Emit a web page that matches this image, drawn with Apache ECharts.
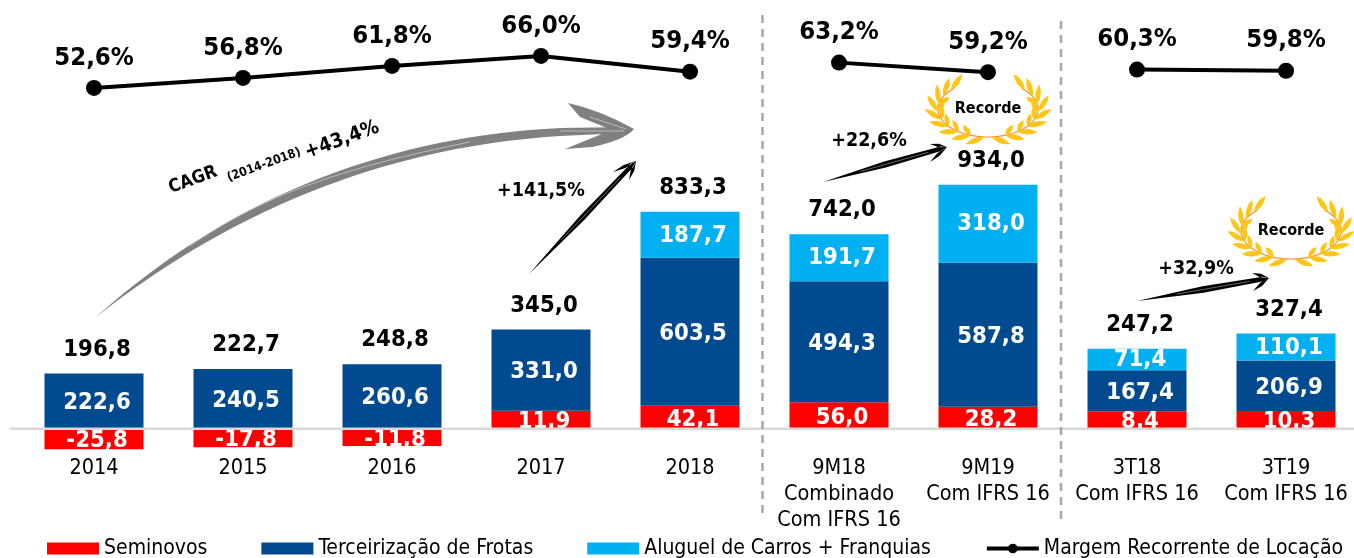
<!DOCTYPE html>
<html><head><meta charset="utf-8">
<script src="https://cdn.jsdelivr.net/npm/echarts@6/dist/echarts.min.js"></script>
<style>html,body{margin:0;padding:0;background:#fff;overflow:hidden}#c{width:1354px;height:558px}</style>
</head><body><div id="c"></div>
<script>
var categories = ['2014','2015','2016','2017','2018','9M18\nCombinado\nCom IFRS 16','9M19\nCom IFRS 16','3T18\nCom IFRS 16','3T19\nCom IFRS 16'];
// printed values
var seminovos = [-25.8,-17.8,-11.8,11.9,42.1,56.0,28.2,8.4,10.3];
var terceirizacao = [222.6,240.5,260.6,331.0,603.5,494.3,587.8,167.4,206.9];
var aluguel = [null,null,null,null,187.7,191.7,318.0,71.4,110.1];
var totais = [196.8,222.7,248.8,345.0,833.3,742.0,934.0,247.2,327.4];
var margem = [52.6,56.8,61.8,66.0,59.4,null,null,null,null];
var margem9M = [null,null,null,null,null,63.2,59.2,null,null];
var margem3T = [null,null,null,null,null,null,null,60.3,59.8];
// the picture draws these segments out of scale with their printed values: heights as read from it
var seminovosAltura = [-87,-79,-73.5,70.6,91,105,87,68,69];
var aluguelAltura = [null,null,null,null,187.7,191.7,318.0,88,110.1];
var zeros = [0,0,0,0,0,0,0,0,0];

var FONT = '"DejaVu Sans Condensed","DejaVu Sans",sans-serif';
var fmt = function(v){ return v.toFixed(1).replace('.',','); };

function barLabel(values, dy){
  return {show:true, position:'inside', offset:[3,dy], color:'#fff', fontFamily:FONT, fontWeight:'bold', fontSize:23.7,
    formatter:function(p){ return fmt(values[p.dataIndex]); }};
}
function lineSeries(name, data){
  return {name:name, type:'line', yAxisIndex:1, data:data, connectNulls:false, symbol:'circle', symbolSize:16, z:5,
    lineStyle:{color:'#000', width:4}, itemStyle:{color:'#000'},
    label:{show:true, position:'top', distance:9, color:'#000', fontFamily:FONT, fontWeight:'bold', fontSize:25.5,
      formatter:function(p){ return fmt(p.value)+'%'; }}};
}

// ---- annotations (drawn on top of the chart) ----
function arrowPath(a){
  var dx=a.tip[0]-a.tail[0], dy=a.tip[1]-a.tail[1], L=Math.sqrt(dx*dx+dy*dy), ux=dx/L, uy=dy/L, nx=-uy, ny=ux, w=a.w;
  function P(s,n){ return (a.tail[0]+ux*s+nx*n).toFixed(1)+','+(a.tail[1]+uy*s+ny*n).toFixed(1); }
  var d='M'+a.tail.join(',')+' L'+P(L*0.5,w)+' L'+P(L-6,w*0.7)+' L'+a.tip.join(',')+' L'+P(L-6,-w*0.7)+' L'+P(L*0.5,-w)+' Z';
  [a.b1,a.b2].forEach(function(b){
    var bx=b[0]-a.tip[0], by=b[1]-a.tip[1], bl=Math.sqrt(bx*bx+by*by), px=-by/bl, py=bx/bl;
    var mx=a.tip[0]+bx*0.5, my=a.tip[1]+by*0.5;
    d+=' M'+b.join(',')+' L'+(mx+px*1.8).toFixed(1)+','+(my+py*1.8).toFixed(1)+' L'+a.tip.join(',')+' L'+(mx-px*1.8).toFixed(1)+','+(my-py*1.8).toFixed(1)+' Z';
  });
  return d;
}
function arrowStreak(a){
  var dx=a.tip[0]-a.tail[0], dy=a.tip[1]-a.tail[1];
  return 'M'+(a.tail[0]+dx*0.3).toFixed(1)+','+(a.tail[1]+dy*0.3).toFixed(1)+' L'+(a.tail[0]+dx*0.85).toFixed(1)+','+(a.tail[1]+dy*0.85).toFixed(1);
}
var arrows = [
  {tail:[529,274],tip:[636,161],b1:[613,172],b2:[629,180],w:3},
  {tail:[823,182],tip:[947,147],b1:[930,144],b2:[930,162],w:3.2},
  {tail:[1137,301],tip:[1269,278],b1:[1252,273],b2:[1253,291],w:3.2}
];
var annotations = [
  {t:'+141,5%',x:541,y:191,s:19.5},
  {t:'+22,6%',x:869,y:141,s:19.5},
  {t:'+32,9%',x:1196,y:269,s:19.5}
];
function textEl(t,x,y,s,rot){
  return {type:'text',x:x,y:y,rotation:(rot||0)*Math.PI/180,style:{text:t,x:0,y:0,align:'center',verticalAlign:'middle',fill:'#000',fontFamily:FONT,fontWeight:'bold',fontSize:s}};
}
function wreath(cx,cy){
  var out=[], rx=50, ry=28;
  [-1,1].forEach(function(side){
    var stem='';
    for(var k=0;k<=30;k++){
      var th=(90+k*4.6)*Math.PI/180;
      var x=-side*rx*Math.cos(th), y=ry*Math.sin(th);
      stem+=(k?'L':'M')+x.toFixed(1)+','+y.toFixed(1)+' ';
    }
    out.push({type:'path',shape:{pathData:stem},style:{fill:null,stroke:'#F58A3C',lineWidth:1.2}});
    var lf='';
    for(var i=0;i<9;i++){
      var a=(94+i*16)*Math.PI/180;
      var bx=-side*rx*Math.cos(a), by=ry*Math.sin(a);
      var tx=side*rx*Math.sin(a), ty=ry*Math.cos(a);
      var tl=Math.sqrt(tx*tx+ty*ty); tx/=tl; ty/=tl;
      [1,-1].forEach(function(o){
        if(o===-1 && (i<1||i>6)) return;
        var ang=o*side*(o===1?0.4:0.7), len=o===1?20:13, wd=o===1?5.5:5;
        var ca=Math.cos(ang), sa=Math.sin(ang);
        var dx=tx*ca-ty*sa, dy=tx*sa+ty*ca;
        var ex=bx+dx*len, ey=by+dy*len, mx=bx+dx*len*0.5, my=by+dy*len*0.5, nx=-dy*wd, ny=dx*wd;
        lf+='M'+bx.toFixed(1)+','+by.toFixed(1)+' Q'+(mx+nx).toFixed(1)+','+(my+ny).toFixed(1)+' '+ex.toFixed(1)+','+ey.toFixed(1)+' Q'+(mx-nx).toFixed(1)+','+(my-ny).toFixed(1)+' '+bx.toFixed(1)+','+by.toFixed(1)+' Z ';
      });
    }
    out.push({type:'path',shape:{pathData:lf},style:{fill:'#FFC61A'}});
  });
  out.push(textEl('Recorde',0,0,16));
  return {type:'group',x:cx,y:cy,children:out};
}

var graphics = [
  {type:'line',z:100,shape:{x1:10,y1:428.7,x2:1354,y2:428.7},style:{stroke:'#d9d9d9',lineWidth:2.6}},
  {type:'line',z:101,shape:{x1:762.5,y1:15,x2:762.5,y2:514},style:{stroke:'#a6a6a6',lineWidth:2.5,lineDash:[8,6]}},
  {type:'line',z:101,shape:{x1:1061,y1:21,x2:1061,y2:520},style:{stroke:'#a6a6a6',lineWidth:2.5,lineDash:[8,6]}}
];
function renderAnnotations(){
  var c=[
    {type:'path',shape:{pathData:'M95,318 C238,190 398,136 560,128 L625,127 L625,133 L560,136 C402,146 244,200 95,318 Z'},style:{fill:'#808080'}},
    {type:'path',shape:{pathData:'M568,103 Q600,110 634,129 Q625,140 592,147 L565,149 L592,138 L612,130 L580,117 Z'},style:{fill:'#808080'}},
    {type:'path',shape:{pathData:'M190,246 C260,197 340,168 470,142'},style:{fill:null,stroke:'#c8c8c8',lineWidth:0.8}},
    {type:'path',shape:{pathData:'M560,131 L624,131 M590,117 L626,129'},style:{fill:null,stroke:'#c8c8c8',lineWidth:0.8}},
    textEl('CAGR',193,180,18,20),
    textEl('(2014-2018)',264,165,12.5,20),
    textEl('+43,4%',342,140,20,20),
    wreath(988,109), wreath(1291,231)
  ];
  arrows.forEach(function(a){
    c.push({type:'path',shape:{pathData:arrowPath(a)},style:{fill:'#000'}});
    c.push({type:'path',shape:{pathData:arrowStreak(a)},style:{fill:null,stroke:'#aaa',lineWidth:0.6}});
  });
  annotations.forEach(function(a){ c.push(textEl(a.t,a.x,a.y,a.s)); });
  return {type:'group',children:c};
}

var chart = echarts.init(document.getElementById('c'), null, {renderer:'canvas'});
chart.setOption({
  animation:false,
  backgroundColor:'#fff',
  grid:{left:19.5, top:11.5, width:1341, height:441, containLabel:false, outerBoundsMode:'none'},
  legend:{left:42, top:533, itemWidth:52, itemHeight:12, itemGap:54,
    textStyle:{color:'#000',fontFamily:FONT,fontSize:21},
    data:[{name:'Seminovos',icon:'rect'},{name:'Terceirização de Frotas',icon:'rect'},{name:'Aluguel de Carros + Franquias',icon:'rect'},{name:'Margem Recorrente de Locação',lineStyle:{width:4,color:'#000'}}]},
  xAxis:{type:'category', data:categories, position:'bottom',
    axisLine:{show:false,onZero:false}, axisTick:{show:false}, splitLine:{show:false},
    axisLabel:{interval:0, margin:2.5, color:'#000', fontFamily:FONT, fontSize:21.5, lineHeight:26, verticalAlign:'top'}},
  yAxis:[
    {type:'value', min:-100, max:1700, interval:100, show:false, splitLine:{show:false}},
    {type:'value', min:-100, max:84.6, show:false, splitLine:{show:false}}
  ],
  graphic:graphics,
  series:[
    {name:'Seminovos',type:'bar',stack:'a',barWidth:99,data:seminovosAltura,itemStyle:{color:'#FF0000'},label:barLabel(seminovos,2.5)},
    {name:'Terceirização de Frotas',type:'bar',stack:'a',barWidth:99,data:terceirizacao,itemStyle:{color:'#024A90'},label:barLabel(terceirizacao,2)},
    {name:'Aluguel de Carros + Franquias',type:'bar',stack:'a',barWidth:99,data:aluguelAltura,itemStyle:{color:'#00B0F0'},label:barLabel(aluguel,0.5)},
    {name:'Total',type:'bar',stack:'a',barWidth:99,data:zeros,itemStyle:{color:'transparent'},
      label:{show:true,position:'top',distance:12,offset:[3,0],color:'#000',fontFamily:FONT,fontWeight:'bold',fontSize:23.7,
        formatter:function(p){return fmt(totais[p.dataIndex]);}}},
    lineSeries('Margem Recorrente de Locação',margem),
    lineSeries('Margem Recorrente de Locação',margem9M),
    lineSeries('Margem Recorrente de Locação',margem3T),
    {name:'Anotações',type:'custom',coordinateSystem:'none',data:[0],z:50,silent:true,clip:false,renderItem:renderAnnotations}
  ]
});
</script></body></html>
